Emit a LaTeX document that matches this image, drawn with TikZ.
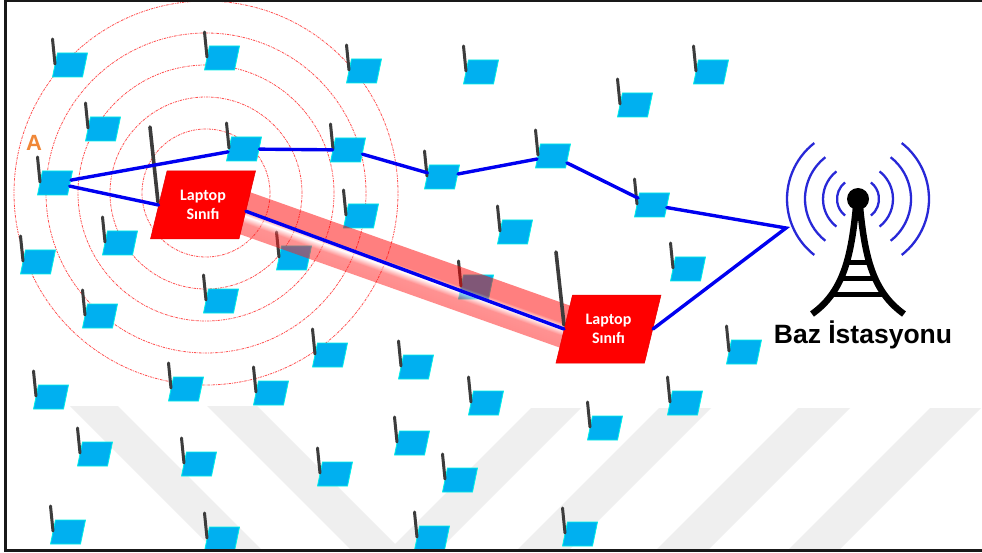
\documentclass[tikz,border=0pt]{standalone}
\usepackage{fontspec}
\setmainfont{Liberation Sans}
\newfontfamily\labelfont{Carlito}

\definecolor{iconfill}{RGB}{0,176,240}
\definecolor{iconrim}{RGB}{0,240,230}
\definecolor{antennagray}{RGB}{60,60,60}
\definecolor{linkblue}{RGB}{0,0,240}
\definecolor{wavecol}{RGB}{40,40,215}
\definecolor{ringred}{RGB}{255,80,80}
\definecolor{markorange}{RGB}{240,135,55}
\definecolor{markgray}{RGB}{239,239,239}
\colorlet{beamsoft}{red!90}
\colorlet{beammid}{red!85}

% cross-section of the highlighted link: solid red edges with a pale core
\pgfdeclareverticalshading{beamshade}{100bp}{color(0bp)=(beamsoft); color(25bp)=(beamsoft); color(39bp)=(beammid); color(47bp)=(white); color(54bp)=(red); color(75bp)=(red); color(100bp)=(red)}

\tikzset{
  icon/.style={rectangle, minimum width=30, minimum height=24, inner sep=0,
    xslant=0.208, transform shape, fill=iconfill, draw=iconrim, line width=0.8},
  laptopbox/.style={rectangle, minimum width=88.5, minimum height=68, inner sep=0,
    xslant=0.243, transform shape, fill=red, draw=red!90!black, line width=0.5},
  laptoptext/.style={text=white, align=center, inner sep=0,
    font=\labelfont\bfseries\fontsize{16}{19}\selectfont},
  antenna/.style={draw=antennagray, line width=3, line cap=round},
  bigantenna/.style={draw=antennagray, line width=3.6, line cap=round},
  link/.style={draw=linkblue, line width=3.4, line cap=round, line join=miter},
  ring/.style={draw=ringred, line width=0.8, dash pattern=on 2.5pt off 1pt on 0.8pt off 1pt},
  wave/.style={draw=wavecol, line width=2.3},
  frame/.style={draw=black!90, line width=2.5},
}

% a wireless laptop: slanted screen with its antenna
\newcommand\laptopicon[3]{%
  \node[icon] (#1) at (#2,-#3) {};
  \draw[antenna] ([shift={(-15,1)}]#1.center) -- ++(-2.5,25);
}

\begin{document}
\begin{tikzpicture}[x=1pt, y=1pt]
\useasboundingbox (0,0) rectangle (982,-553);
\fill[white] (0,0) rectangle (982,-553);

% faint diagonal background bands
\fill[markgray] (70,-406) -- (118,-406) -- (262,-550) -- (214,-550) -- cycle;
\fill[markgray] (207,-406) -- (257,-406) -- (401,-550) -- (351,-550) -- cycle;
\fill[markgray] (531,-408) -- (581,-408) -- (439,-550) -- (389,-550) -- cycle;
\fill[markgray] (659,-408) -- (711,-408) -- (569,-550) -- (517,-550) -- cycle;
\fill[markgray] (798,-408) -- (850,-408) -- (708,-550) -- (656,-550) -- cycle;
\fill[markgray] (930,-408) -- (981,-408) -- (839,-550) -- (788,-550) -- cycle;

% coverage rings around the first laptop class
\foreach \r in {64,96,128,160,192}
  \draw[ring] (206,-193) circle (\r);

% wireless laptops
\laptopicon{i1}{70}{65}
\laptopicon{i2}{222}{58}
\laptopicon{i3}{364}{71}
\laptopicon{i4}{481}{72}
\laptopicon{i5}{635}{105}
\laptopicon{i6}{711}{72}
\laptopicon{i7}{103}{129}
\laptopicon{i8}{244}{149}
\laptopicon{i9}{348}{150}
\laptopicon{i10}{442}{177}
\laptopicon{i11}{553}{156}
\laptopicon{i12}{652}{205}
\laptopicon{A}{55}{183}
\laptopicon{i14}{120}{243}
\laptopicon{i15}{38}{262}
\laptopicon{i16}{361}{216}
\laptopicon{i17}{294}{258}
\laptopicon{i18}{515}{232}
\laptopicon{i19}{476}{287}
\laptopicon{i20}{688}{269}
\laptopicon{i21}{221}{301}
\laptopicon{i22}{100}{316}
\laptopicon{i23}{330}{355}
\laptopicon{i24}{416}{367}
\laptopicon{i25}{744}{352}
\laptopicon{i26}{51}{397}
\laptopicon{i27}{186}{389}
\laptopicon{i28}{271}{393}
\laptopicon{i29}{95}{454}
\laptopicon{i30}{199}{464}
\laptopicon{i31}{335}{474}
\laptopicon{i32}{68}{532}
\laptopicon{i33}{222}{539}
\laptopicon{i34}{486}{403}
\laptopicon{i35}{412}{443}
\laptopicon{i36}{605}{428}
\laptopicon{i37}{685}{403}
\laptopicon{i38}{460}{480}
\laptopicon{i39}{432}{538}
\laptopicon{i40}{580}{534}

% highlighted link between the two laptop classes
\begin{scope}[transform canvas={shift={(230,-207.9)}, rotate=-19.52}]
  \shade[shading=beamshade, opacity=0.5] (0,-21.5) rectangle (366,21.5);
\end{scope}

% laptop classes
\draw[bigantenna] (158,-202) -- (150,-127);
\node[laptopbox] (L1) at (203,-205) {};
\node[laptoptext] (L1t) at (L1.center) {Laptop\\Sınıfı};
\draw[bigantenna] (564,-325) -- (556,-252);
\node[laptopbox] (L2) at (608.5,-329) {};
\node[laptoptext] (L2t) at (L2.center) {Laptop\\Sınıfı};

% base station
\coordinate (bs) at (786,-228);
\fill (858,-199) circle (11);
\draw[line width=6.5] (856,-207) .. controls (851,-258) and (843,-292) .. (812,-314);
\draw[line width=6.5] (860,-207) .. controls (865,-258) and (873,-292) .. (904,-314);
\draw[line width=5] (846,-263) -- (870,-263);
\draw[line width=5] (841,-279) -- (875,-279);
\draw[line width=5] (833,-294) -- (883,-294);
\foreach \r in {21,35,53,71} {
  \draw[wave] (858,-199) ++(128:\r) arc[start angle=128, end angle=232, radius=\r];
  \draw[wave] (858,-199) ++(-52:\r) arc[start angle=-52, end angle=52, radius=\r];
}
\node[font=\bfseries\fontsize{26.5}{26.5}\selectfont, anchor=base] (bslabel) at (863,-343) {Baz İstasyonu};

% multi-hop route
\draw[link] (A) -- (i8);
\draw[link] (i8) -- (i9);
\draw[link] (i9) -- (i10);
\draw[link] (i10) -- (i11);
\draw[link] (i11) -- (i12);
\draw[link] (i12) -- (bs) -- (L2.east);
\draw[link] (L2.west) -- (L1.-8);
\draw[link] (L1.west) -- (A);

\node[font=\bfseries\fontsize{22}{22}\selectfont, text=markorange] (alabel) at (34,-143) {A};

% frame
\draw[frame] (982,-1) -- (5.5,-1) -- (5.5,-550.5) -- (982,-550.5);
\end{tikzpicture}
\end{document}
